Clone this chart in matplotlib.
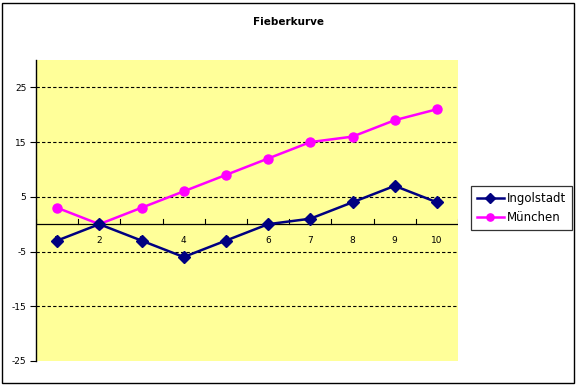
import matplotlib
matplotlib.use("Agg")
import matplotlib.pyplot as plt
from matplotlib.patches import Rectangle

categories = ["1", "2", "3", "4", "5", "6", "7", "8", "9", "10"]
ingolstadt = [-3, 0, -3, -6, -3, 0, 1, 4, 7, 4]
muenchen = [3, 0, 3, 6, 9, 12, 15, 16, 19, 21]
yticks = [-25, -15, -5, 5, 15, 25]

W, H = 577, 385
fig = plt.figure(figsize=(W / 100, H / 100), dpi=100)
fig.patch.set_facecolor("white")
fig.patches.append(Rectangle((2 / W, 2 / H), (W - 5) / W, (H - 5) / H, transform=fig.transFigure,
                             fill=False, edgecolor="black", linewidth=1.0))

def px(l, t, r, b):
    return [l / W, 1 - b / H, (r - l) / W, (b - t) / H]

ax = fig.add_axes(px(36, 60, 458, 361))
ax.set_facecolor("#FFFF99")
x = list(range(len(categories)))
ax.set_xlim(-0.5, len(categories) - 0.5)
ax.set_ylim(-25, 30)

for s in ["top", "right", "bottom"]:
    ax.spines[s].set_visible(False)
ax.spines["left"].set_linewidth(1.0)

ax.set_yticks(yticks)
ax.set_yticklabels([str(v) for v in yticks], fontsize=6.5)
ax.tick_params(axis="y", length=4, width=0.8, pad=3)
for v in yticks[1:]:
    ax.axhline(v, color="black", linestyle=(0, (3, 2)), linewidth=0.8, zorder=1)

# category axis at y=0
ax.axhline(0, color="black", linewidth=0.9, zorder=2)
ax.set_xticks([])
for i in range(len(categories) + 1):
    ax.plot([i - 0.5, i - 0.5], [0, 0.9], color="black", linewidth=0.8, zorder=2)
for i, c in enumerate(categories):
    ax.text(i, -3.0, c, ha="center", va="center", fontsize=6.5, zorder=2)

ax.plot(x, muenchen, color="#FF00FF", marker="o", markersize=6.5, linewidth=1.8,
        label="München", zorder=4)
ax.plot(x, ingolstadt, color="#000080", marker="D", markersize=6.5, linewidth=1.8,
        label="Ingolstadt", zorder=5)

fig.text(0.5, 1 - 22 / H, "Fieberkurve", ha="center", va="center", fontsize=7.5, fontweight="bold")

handles, labels = ax.get_legend_handles_labels()
leg = fig.legend(handles[::-1], labels[::-1], loc="upper left",
                 bbox_to_anchor=(471 / W, 1 - 186 / H), fontsize=8.5, frameon=True,
                 fancybox=False, edgecolor="black", handlelength=2.3, handletextpad=0.2,
                 borderpad=0.5, labelspacing=0.55, borderaxespad=0, markerscale=0.8)
leg.get_frame().set_linewidth(0.9)

fig.savefig("out.png", dpi=100)
